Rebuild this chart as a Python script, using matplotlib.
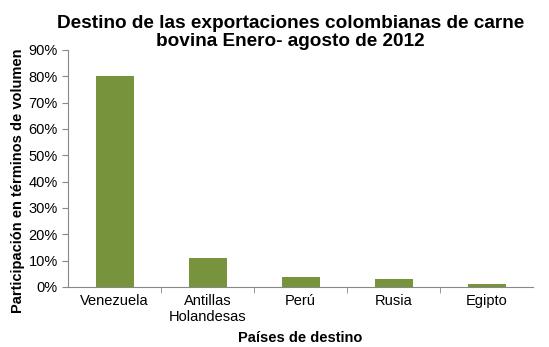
import matplotlib
matplotlib.use('Agg')
import matplotlib.pyplot as plt
from matplotlib.ticker import PercentFormatter

plt.rcParams['font.family'] = ['Liberation Sans', 'DejaVu Sans']

paises = ['Venezuela', 'Antillas\nHolandesas', 'Perú', 'Rusia', 'Egipto']
participacion = [80.0, 11.0, 3.7, 3.2, 1.2]

fig = plt.figure(figsize=(5.49, 3.47), dpi=100)
ax = fig.add_axes([0.124, 0.173, 0.847, 0.683])

x = list(range(len(paises)))
ax.bar(x, participacion, width=0.41, color='#77933C')

ax.set_xlim(-0.5, len(paises) - 0.5)
ax.set_ylim(0, 90)
ax.set_yticks(range(0, 91, 10))
ax.yaxis.set_major_formatter(PercentFormatter(decimals=0))
ax.set_xticks(x)
ax.set_xticklabels(paises)
ax.set_xticks([i + 0.5 for i in range(len(paises) - 1)], minor=True)
ax.tick_params(axis='x', which='major', length=0, labelsize=10.5, pad=5)
ax.tick_params(axis='x', which='minor', length=4, color='#888888')
ax.tick_params(axis='y', length=4, color='#888888', labelsize=10.5)

for s in ['top', 'right']:
    ax.spines[s].set_visible(False)
for s in ['left', 'bottom']:
    ax.spines[s].set_color('#888888')

ax.set_title('Destino de las exportaciones colombianas de carne\nbovina Enero- agosto de 2012',
             fontsize=13.7, fontweight='bold', pad=3, linespacing=1.05, x=0.478)
ax.set_xlabel('Países de destino', fontsize=10.5, fontweight='bold', labelpad=5)
ax.set_ylabel('Participación en términos de volumen', fontsize=10.5, fontweight='bold')
ax.yaxis.set_label_coords(-0.092, 0.45)

fig.savefig('out.png', dpi=100)
